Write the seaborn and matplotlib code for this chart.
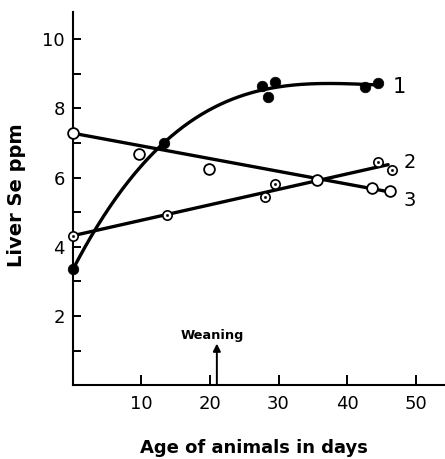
import numpy as np
import pandas as pd
import matplotlib
matplotlib.use("Agg")
import matplotlib.pyplot as plt
import seaborn as sns

# Liver Se (ppm) against age (days), three groups of animals
age_1 = [0, 13.3, 27.6, 28.5, 29.5, 42.6, 44.5]
se_1 = [3.35, 7.00, 8.64, 8.32, 8.76, 8.62, 8.73]

age_2 = [0, 13.7, 28.0, 29.5, 44.5, 46.5]
se_2 = [4.31, 4.91, 5.45, 5.81, 6.46, 6.21]

age_3 = [0, 9.7, 19.8, 35.6, 43.7, 46.3]
se_3 = [7.28, 6.68, 6.24, 5.92, 5.70, 5.61]

# drawn trend line for group 3 (end points)
trend_3_age = [0, 46.3]
trend_3_se = [7.28, 5.58]

x_ticks = [10, 20, 30, 40, 50]
y_ticks = [2, 4, 6, 8, 10]
y_minor = [1, 3, 5, 7, 9]
weaning_day = 21

sns.set_style("ticks", {"axes.edgecolor": "black", "text.color": "black",
                        "xtick.color": "black", "ytick.color": "black",
                        "axes.labelcolor": "black"})
plt.rcParams["font.family"] = ["DejaVu Sans"]

fig = plt.figure(figsize=(4.45, 4.59), dpi=100)
ax = fig.add_axes([0.164, 0.161, 0.836, 0.8126])

# group 1: smooth cubic through the measurements
p1 = np.polyfit(age_1, se_1, 3)
xc = np.linspace(0, max(age_1), 200)
curve_1 = pd.DataFrame({"age": xc, "se": np.polyval(p1, xc)})

# group 2: least-squares straight line
b2, a2 = np.polyfit(age_2, se_2, 1)
x2 = np.array([0, 46.0])
line_2 = pd.DataFrame({"age": x2, "se": a2 + b2 * x2})

line_3 = pd.DataFrame({"age": trend_3_age, "se": trend_3_se})

lw = 2.4
for d in (curve_1, line_2, line_3):
    sns.lineplot(data=d, x="age", y="se", ax=ax, color="black", lw=lw,
                 zorder=2, clip_on=False, sort=False)

# points
sns.scatterplot(x=age_1, y=se_1, ax=ax, color="black", s=58,
                edgecolor="black", linewidth=0.5, zorder=4, clip_on=False)
sns.scatterplot(x=age_3, y=se_3, ax=ax, color="white", s=60,
                edgecolor="black", linewidth=1.3, zorder=4, clip_on=False)
sns.scatterplot(x=age_2, y=se_2, ax=ax, color="white", s=45,
                edgecolor="black", linewidth=1.2, zorder=4, clip_on=False)
sns.scatterplot(x=age_2, y=se_2, ax=ax, color="black", s=3,
                edgecolor="black", linewidth=0.3, zorder=5, clip_on=False)

# curve numbers
ax.text(46.6, 8.63, "1", fontsize=15, va="center", ha="left")
ax.text(48.3, 6.42, "2", fontsize=14, va="center", ha="left")
ax.text(48.3, 5.33, "3", fontsize=14, va="center", ha="left")

# weaning marker
ax.annotate("", xy=(weaning_day, 1.2), xytext=(weaning_day, 0),
            arrowprops=dict(arrowstyle="-|>", color="black", lw=1.4,
                            mutation_scale=11, shrinkA=0, shrinkB=0))
ax.text(weaning_day - 0.6, 1.42, "Weaning", fontsize=9.3, fontweight="bold",
        ha="center", va="center")

ax.set_xlim(0, 54.3)
ax.set_ylim(0, 10.78)
ax.set_xticks(x_ticks)
ax.set_xticklabels([str(t) for t in x_ticks])
ax.set_yticks(y_ticks)
ax.set_yticklabels([str(t) for t in y_ticks])
ax.set_yticks(y_minor, minor=True)

ax.tick_params(axis="x", which="major", direction="in", length=7, width=1.4,
               labelsize=13, pad=7)
ax.tick_params(axis="y", which="major", direction="in", length=6, width=1.4,
               labelsize=13, pad=6)
ax.tick_params(axis="y", which="minor", direction="in", length=6, width=1.4)

for side in ("top", "right"):
    ax.spines[side].set_visible(False)
for side in ("left", "bottom"):
    ax.spines[side].set_linewidth(1.5)

ax.set_xlabel("")
ax.set_ylabel("")
fig.text(0.571, 0.024, "Age of animals in days", fontsize=13,
         fontweight="bold", ha="center", va="center")
fig.text(0.038, 0.575, "Liver Se ppm", fontsize=14, fontweight="bold",
         ha="center", va="center", rotation=90)

fig.savefig("out.png", dpi=100)
